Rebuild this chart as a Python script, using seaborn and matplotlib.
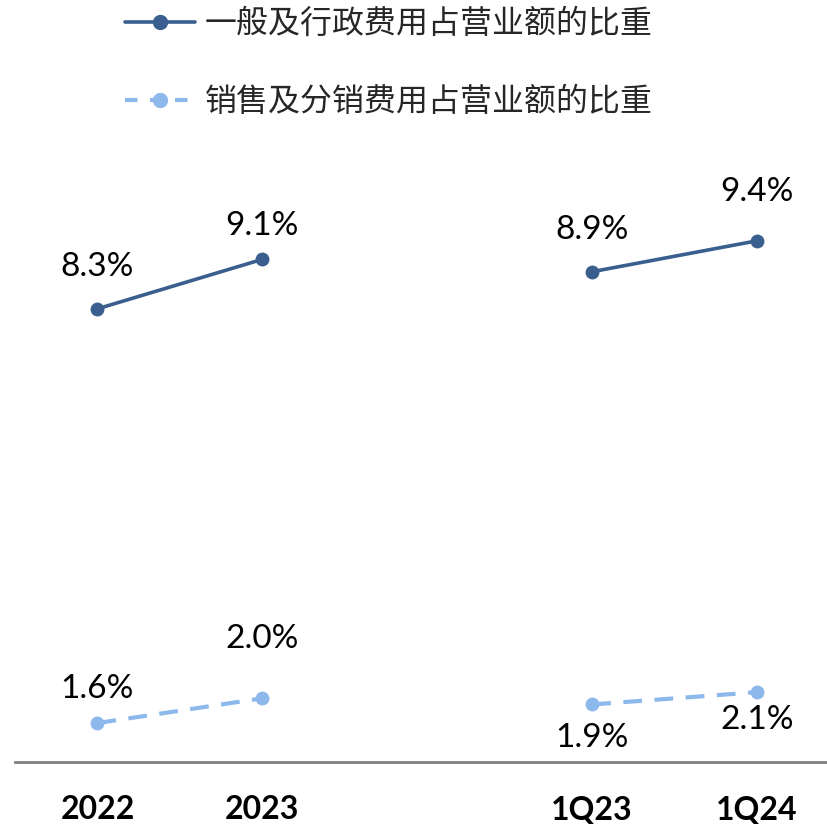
import matplotlib
matplotlib.use("Agg")
import matplotlib.pyplot as plt
from matplotlib.lines import Line2D
import seaborn as sns
import pandas as pd

categories = ["2022", "2023", "", "1Q23", "1Q24"]
groups = ["annual", "annual", None, "quarter", "quarter"]
ga_ratio = [8.3, 9.1, None, 8.9, 9.4]
sd_ratio = [1.6, 2.0, None, 1.9, 2.1]
series_names = ["一般及行政费用占营业额的比重", "销售及分销费用占营业额的比重"]

rows = []
for name, vals in zip(series_names, [ga_ratio, sd_ratio]):
    for i, (cat, grp, v) in enumerate(zip(categories, groups, vals)):
        if v is None:
            continue
        rows.append({"pos": i, "period": cat, "group": grp, "series": name, "value": v})
df = pd.DataFrame(rows)

dark = "#3A5F8F"
light = "#8DB8EB"
palette = {series_names[0]: dark, series_names[1]: light}

sns.set_style("white")
plt.rcParams["font.family"] = ["Lato", "Noto Sans CJK SC", "DejaVu Sans"]

fig = plt.figure(figsize=(8.28, 8.24), dpi=100)
ax = fig.add_axes([15 / 828, 62 / 824, 813 / 828, 622 / 824])

sns.lineplot(data=df, x="pos", y="value", hue="series", units="group",
             estimator=None, palette=palette, legend=False, ax=ax,
             marker="o", markersize=10, markeredgewidth=0)

# style the two series
for line in ax.lines:
    if matplotlib.colors.to_hex(line.get_color()) == light.lower():
        line.set_dashes((4.5, 3))
        line.set_linewidth(3)
    else:
        line.set_linewidth(2.6)

# value labels
offsets = {series_names[0]: [30, 24, 0, 30, 35],
           series_names[1]: [24.5, 43, 0, -24, -20]}
for name, vals in zip(series_names, [ga_ratio, sd_ratio]):
    for i, v in enumerate(vals):
        if v is None:
            continue
        ax.annotate(f"{v:.1f}%", (i, v), xytext=(0, offsets[name][i]),
                    textcoords="offset points", ha="center", va="center",
                    fontsize=24, color="black")

ax.set_xlim(-0.5, 4.43)
ax.set_ylim(0.97, 11.03)
ax.set_xticks(range(len(categories)))
ax.set_xticklabels(categories, fontsize=23, fontweight="bold", color="black")
ax.tick_params(axis="x", length=0, pad=24)
ax.set_yticks([])
ax.set_xlabel("")
ax.set_ylabel("")
for side in ["top", "right", "left"]:
    ax.spines[side].set_visible(False)
ax.spines["bottom"].set_color("#808080")
ax.spines["bottom"].set_linewidth(2)

handles = [
    Line2D([], [], color=dark, lw=2.6, marker="o", markersize=10),
    Line2D([], [], color=light, lw=3, marker="o", markersize=10, dashes=(3, 3)),
]
fig.legend(handles, series_names, loc="upper left", bbox_to_anchor=(96 / 828, 1.025),
           frameon=False, handlelength=2.2, handletextpad=0.3, labelspacing=1.45,
           prop={"family": ["Noto Sans CJK SC"], "size": 23})

fig.savefig("out.png", dpi=100)
